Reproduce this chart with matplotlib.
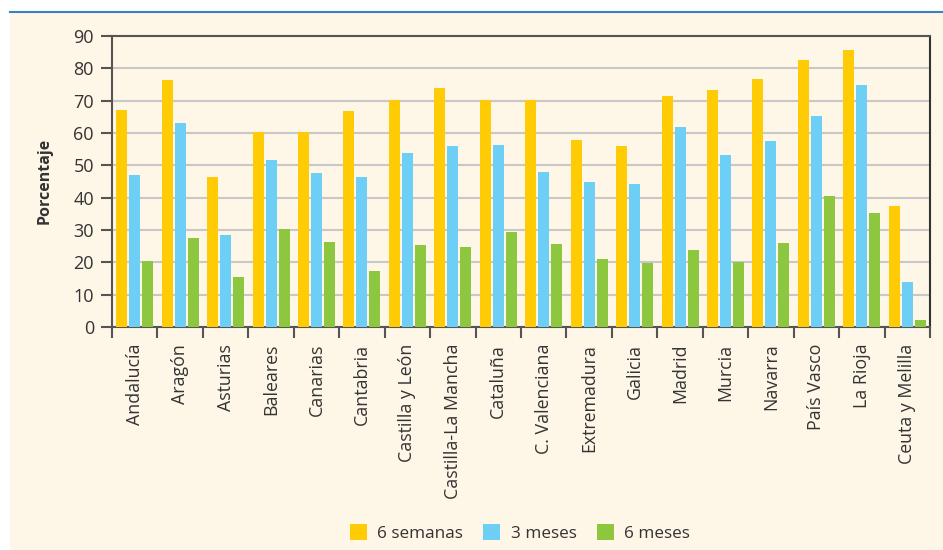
import matplotlib
matplotlib.use("Agg")
import matplotlib.pyplot as plt
from matplotlib.patches import Rectangle, Patch
from matplotlib.lines import Line2D
import numpy as np

categories = ["Andalucía", "Aragón", "Asturias", "Baleares", "Canarias", "Cantabria",
              "Castilla y León", "Castilla-La Mancha", "Cataluña", "C. Valenciana",
              "Extremadura", "Galicia", "Madrid", "Murcia", "Navarra", "País Vasco",
              "La Rioja", "Ceuta y Melilla"]
semanas6 = [67.1, 76.4, 46.4, 60.3, 60.3, 66.8, 70.2, 74.0, 70.2, 70.2,
            57.8, 56.0, 71.4, 73.3, 76.7, 82.6, 85.7, 37.4]
meses3 = [47.0, 63.1, 28.4, 51.6, 47.6, 46.4, 53.8, 56.1, 56.4, 48.0,
          44.8, 44.2, 61.9, 53.2, 57.5, 65.3, 74.8, 13.9]
meses6 = [20.3, 27.5, 15.5, 30.3, 26.3, 17.3, 25.4, 24.7, 29.4, 25.7,
          21.0, 19.8, 23.8, 20.1, 26.0, 40.5, 35.3, 2.2]
series_labels = ["6 semanas", "3 meses", "6 meses"]
yticks = [0, 10, 20, 30, 40, 50, 60, 70, 80, 90]

colors = ["#FFCB05", "#6DCFF6", "#8DC63F"]
cream = "#FEF6E6"
txt = "#333333"
spine_c = "#555555"

plt.rcParams['font.family'] = ['Open Sans', 'DejaVu Sans']

W, H = 943, 550
fig = plt.figure(figsize=(W/100, H/100), dpi=100, facecolor="white")
fig.patches.append(Rectangle((10/W, 0), 1 - 10/W, 1 - 13/H, transform=fig.transFigure,
                             facecolor=cream, edgecolor="none", zorder=-5))
fig.lines.append(Line2D([10/W, 1], [1 - 11.5/H, 1 - 11.5/H], transform=fig.transFigure,
                        color="#3D7FC1", lw=1.5, zorder=-4))

ax = fig.add_axes([112/W, 1 - 327/H, (930 - 112)/W, (327 - 36)/H])
ax.set_facecolor(cream)
ax.set_zorder(2)

x = np.arange(len(categories))
bw = 0.242
pitch = 0.286
for k, (vals, c, lab) in enumerate(zip([semanas6, meses3, meses6], colors, series_labels)):
    ax.bar(x + (k - 1) * pitch, vals, width=bw, color=c, label=lab, zorder=3)

ax.set_xlim(-0.5, len(categories) - 0.5)
ax.set_ylim(0, 90)
ax.set_yticks(yticks)
ax.yaxis.grid(True, color="#C8C8C8", lw=1.5, zorder=0)
ax.set_axisbelow(True)

ax.set_xticks(x)
ax.set_xticklabels(categories, rotation=90, fontsize=12.8, color=txt)
ax.tick_params(axis="x", which="major", length=0, pad=12)
ax.set_xticks(np.arange(-0.5, len(categories), 1.0), minor=True)
ax.tick_params(axis="x", which="minor", length=8, width=1.5, color=spine_c, direction="out")
ax.tick_params(axis="y", length=8, width=1.5, color=spine_c, labelsize=13, labelcolor=txt, pad=5)

for s in ax.spines.values():
    s.set_color(spine_c)
    s.set_linewidth(1.5)
ax.spines["right"].set_color("#333333")

fig.text(45/W, 1 - 181/H, "Porcentaje", rotation=90, ha="center", va="center",
         fontsize=11.5, fontweight="bold", color=txt)

handles = [Patch(facecolor=c, edgecolor="none") for c in colors]
fig.legend(handles, series_labels, loc="center", bbox_to_anchor=(520/W, 1 - 533/H),
           ncol=3, frameon=False, fontsize=12.3, handlelength=1.0, handleheight=1.0,
           handletextpad=0.6, columnspacing=1.2, labelcolor=txt)

fig.savefig("out.png", dpi=100, facecolor="white")
